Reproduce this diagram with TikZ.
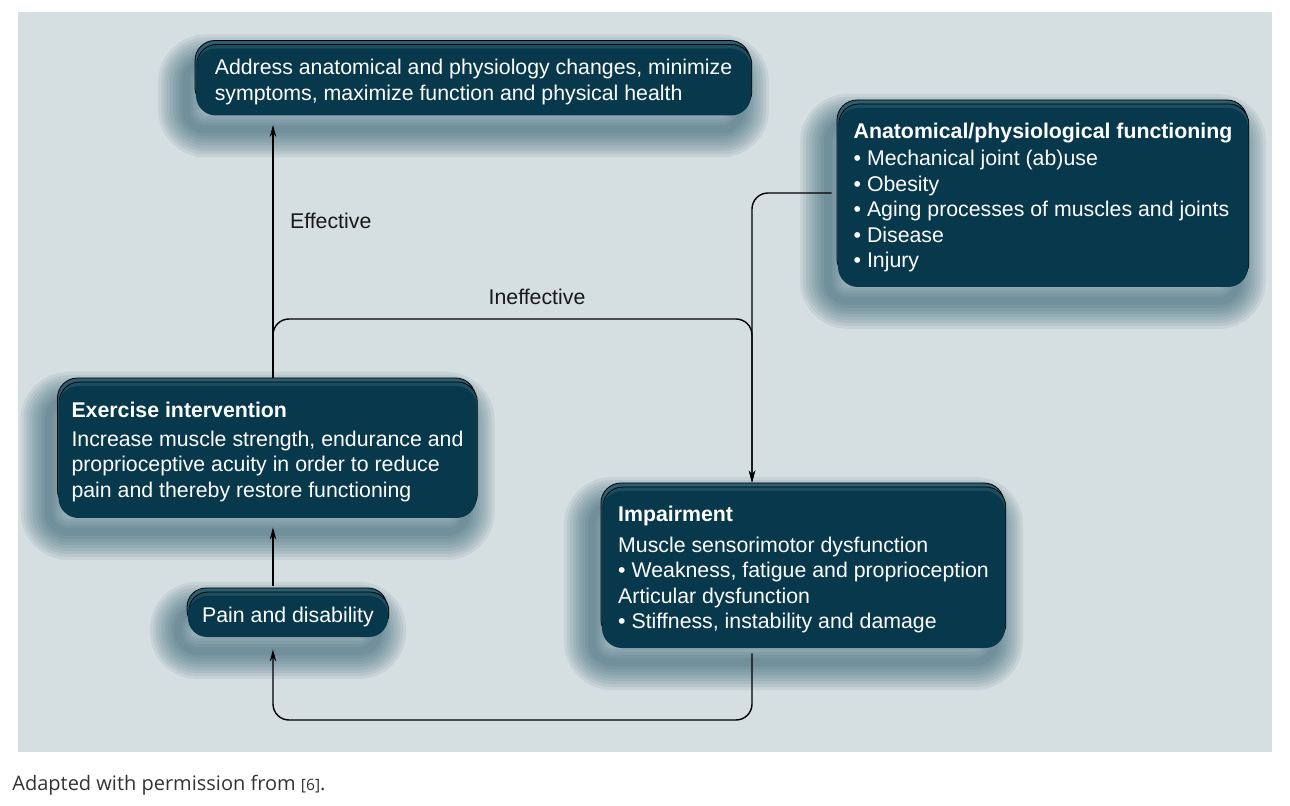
\documentclass[tikz,border=0pt]{standalone}
\usepackage{fontspec}
\setmainfont{Liberation Sans}
\newfontfamily\capfont{Open Sans}
\usetikzlibrary{arrows.meta,shadows}
\definecolor{panel}{RGB}{213,222,224}
\definecolor{boxfill}{RGB}{7,56,76}
\definecolor{stackA}{RGB}{44,94,113}
\definecolor{stackB}{RGB}{28,78,97}
\definecolor{shade}{RGB}{28,78,98}

\begin{document}
\begin{tikzpicture}[x=0.5pt,y=-0.5pt,
    soft/.style={preaction={draw=shade, line width=#1, draw opacity=0.08,
      transform canvas={shift={(-5pt,-7pt)}}}},
    box/.style={
      rectangle,
      rounded corners=10pt,
      fill=boxfill,
      text=white,
      align=left,
      inner sep=0pt,
      font=\fontsize{10.65}{12.75}\selectfont,
      soft=28pt, soft=25pt, soft=22pt, soft=19pt, soft=16pt, soft=13pt, soft=10pt, soft=7pt, soft=4pt,
      copy shadow={shadow xshift=-0.5pt, shadow yshift=4pt, fill=stackA},
      copy shadow={shadow xshift=0.4pt, shadow yshift=2pt, fill=stackB}
    },
    >={Stealth[length=6pt,width=3.2pt]},
    link/.style={->, line width=0.7pt, rounded corners=8pt},
    tag/.style={font=\fontsize{10.65}{12.75}\selectfont, text=black!90}
  ]
  \useasboundingbox (0,0) rectangle (1290,806);
  \fill[panel] (18,12) rectangle (1272,752);

  \coordinate (colL) at (273,0);
  \coordinate (colR) at (752,0);
  \coordinate (top) at (0,319);
  \coordinate (low) at (0,720);

  \node[box, minimum width=277.5pt, minimum height=33.5pt] (goal) at (473.5,82)
    {Address anatomical and physiology changes, minimize\\symptoms, maximize function and physical health};
  \node[box, minimum width=205pt, minimum height=89.5pt] (cause) at (1043,197.5)
    {\textbf{Anatomical/physiological functioning}\\[1pt]
     • Mechanical joint (ab)use\\
     • Obesity\\
     • Aging processes of muscles and joints\\
     • Disease\\
     • Injury};
  \node[box, minimum width=209pt, minimum height=66pt] (exer) at (267.5,452)
    {\textbf{Exercise intervention}\\[1.3pt]
     Increase muscle strength, endurance and\\
     proprioceptive acuity in order to reduce\\
     pain and thereby restore functioning};
  \node[box, minimum width=100pt, minimum height=20.5pt, rounded corners=9.5pt] (pain) at (288,616.5)
    {Pain and disability};
  \node[box, minimum width=201.5pt, minimum height=78.5pt] (imp) at (803.5,569.5)
    {\textbf{Impairment}\\[2.75pt]
     Muscle sensorimotor dysfunction\\
     • Weakness, fatigue and proprioception\\
     Articular dysfunction\\
     • Stiffness, instability and damage};

  \draw[link] ([yshift=4pt]exer.north -| colL) -- ([yshift=-4.5pt]goal.south -| colL);
  \draw[link] ([yshift=4pt]exer.north -| colL) |- (top -| colR) -- ([yshift=4pt]imp.north -| colR);
  \draw[link, shorten <=3pt] ([yshift=2.25pt]cause.west) -| ([yshift=4pt]imp.north -| colR);
  \draw[link] ([yshift=-2.5pt]imp.south -| colR) |- (low -| colL) -- ([yshift=-6pt]pain.south -| colL);
  \draw[link] ([yshift=5pt]pain.north -| colL) -- ([yshift=-4.5pt]exer.south -| colL);

  \node[tag, anchor=west] (eff) at (283,221) {Effective};
  \node[tag] (ineff) at (537,297) {Ineffective};

  \node[anchor=base west, inner sep=0pt, text=black!80, font=\capfont\fontsize{10}{12}\selectfont] (src) at (12,790)
    {Adapted with permission from {\fontsize{7.8}{9}\selectfont[6]}.};
\end{tikzpicture}
\end{document}
